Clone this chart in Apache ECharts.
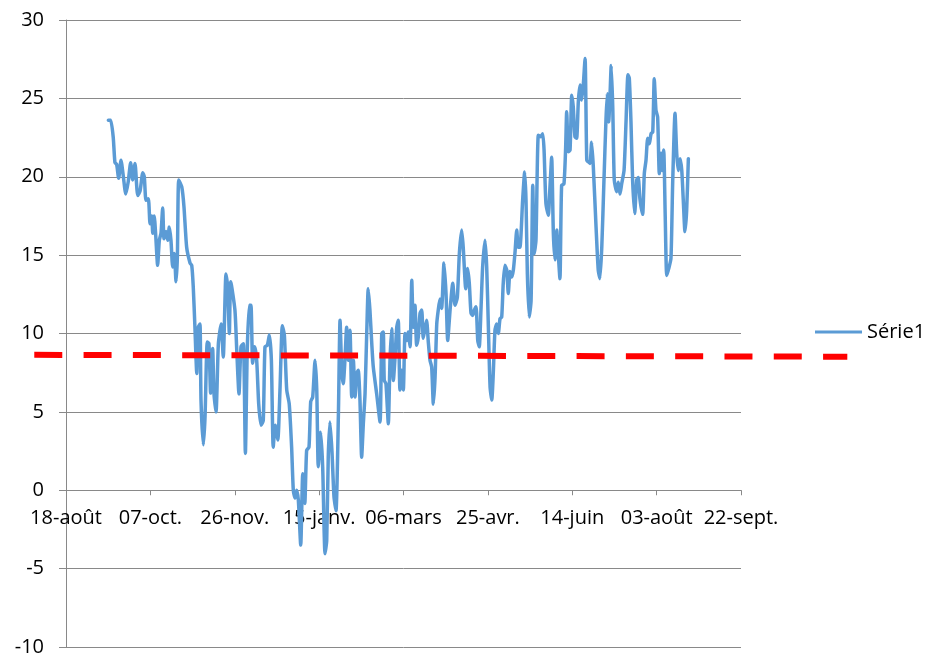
<!DOCTYPE html>
<html>
<head>
<meta charset="utf-8">
<script src="https://cdn.jsdelivr.net/npm/echarts@6/dist/echarts.min.js"></script>
<style>
  html, body { margin: 0; padding: 0; background: #fff; }
  #main { width: 926px; height: 655px; }
</style>
</head>
<body>
<div id="main"></div>
<script>
// Tick labels of the date axis (every 50 days from 18-août)
const tickLabels = ['18-août', '07-oct.', '26-nov.', '15-janv.', '06-mars', '25-avr.', '14-juin', '03-août', '22-sept.'];

// Days since 18-août for each reading
const obsDays = [
  25.1, 26.5, 28.0, 29.0, 30.0, 31.2, 32.6, 34.0, 35.4, 36.9,
  38.3, 39.5, 40.9, 42.5, 43.9, 45.5, 46.4, 47.4, 48.8, 49.8,
  50.8, 51.4, 52.3, 53.2, 54.3, 55.3, 56.3, 57.3, 58.1, 59.3,
  60.3, 61.2, 62.2, 63.2, 64.2, 65.2, 66.0, 66.8, 68.6, 69.9,
  71.5, 73.5, 74.5, 75.4, 76.4, 77.5, 78.4, 79.4, 80.0, 81.4,
  82.4, 83.7, 84.7, 85.7, 86.9, 87.7, 88.9, 90.3, 91.9, 93.2,
  94.8, 95.8, 96.8, 97.6, 100.1, 101.2, 102.5, 103.7, 105.1, 106.3,
  107.4, 108.6, 109.6, 110.6, 111.8, 113.0, 114.2, 115.6, 116.9, 117.9,
  119.3, 120.5, 121.7, 122.8, 124.0, 125.5, 126.8, 128.2, 129.4, 130.8,
  132.3, 133.7, 134.7, 135.7, 136.7, 137.7, 139.1, 140.3, 141.5, 142.6,
  144.0, 145.0, 146.2, 147.6, 148.6, 149.5, 150.9, 152.1, 153.5, 154.5,
  155.4, 156.4, 157.6, 158.8, 160.0, 161.4, 162.4, 163.4, 164.3, 165.3,
  166.3, 167.3, 168.3, 169.3, 170.3, 171.3, 172.3, 173.2, 174.2, 175.2,
  176.2, 177.2, 178.2, 179.1, 180.1, 181.2, 182.1, 184.1, 186.1, 187.1,
  188.0, 188.6, 189.6, 191.0, 192.0, 193.0, 194.0, 195.0, 196.0, 196.9,
  197.9, 198.9, 199.9, 200.9, 201.9, 202.8, 203.9, 204.9, 205.8, 206.8,
  207.8, 208.8, 209.8, 210.8, 211.7, 212.7, 213.7, 214.7, 215.7, 216.7,
  217.7, 218.7, 219.7, 220.6, 221.6, 222.6, 224.0, 225.2, 226.2, 227.6,
  229.2, 230.5, 231.9, 233.1, 234.5, 235.4, 236.9, 238.0, 239.0, 240.0,
  241.0, 242.0, 243.0, 244.0, 244.9, 245.9, 246.9, 248.3, 249.3, 250.3,
  251.3, 252.3, 253.2, 254.2, 255.2, 256.2, 257.2, 258.2, 259.1, 260.1,
  261.2, 262.1, 263.1, 264.1, 265.1, 266.1, 267.1, 268.0, 269.0, 270.6,
  271.8, 272.6, 273.4, 274.5, 275.6, 276.6, 277.5, 278.5, 279.9, 281.3,
  282.5, 283.3, 284.4, 285.8, 286.8, 287.8, 288.8, 289.8, 290.8, 291.7,
  292.7, 293.7, 295.1, 296.1, 296.7, 297.7, 298.7, 299.7, 300.6, 301.6,
  302.6, 303.6, 304.6, 305.6, 306.6, 307.6, 308.6, 309.5, 310.5, 311.5,
  312.5, 314.1, 315.4, 316.4, 317.5, 318.8, 320.0, 320.8, 321.6, 322.4,
  323.1, 324.0, 324.9, 326.3, 327.3, 328.3, 329.3, 330.7, 331.9, 333.0,
  333.8, 334.8, 335.8, 337.0, 338.2, 339.1, 340.1, 341.7, 342.7, 343.7,
  344.7, 345.7, 346.7, 347.7, 348.6, 349.6, 350.6, 351.6, 352.6, 353.4,
  354.2, 355.1, 356.0, 357.2, 358.5, 359.5, 360.9, 361.9, 362.8, 363.9,
  364.9, 365.8, 366.8, 367.8, 368.8
];

// Temperatures (Série1), same order as obsDays
const obsTemps = [
  23.6, 23.6, 22.5, 20.9, 20.8, 19.9, 21.05, 20.0, 18.9, 19.7,
  20.9, 19.8, 20.85, 18.8, 19.1, 20.25, 20.0, 18.5, 18.6, 17.0,
  17.5, 16.4, 17.5, 16.2, 14.35, 15.95, 16.4, 18.0, 16.05, 16.5,
  15.95, 16.8, 15.95, 14.25, 15.1, 13.3, 14.9, 19.8, 19.35, 18.1,
  15.5, 14.5, 14.35, 13.0, 10.4, 7.45, 10.4, 10.6, 5.75, 2.9,
  4.7, 9.45, 9.35, 6.2, 9.05, 6.15, 5.0, 9.35, 10.6, 8.5,
  13.8, 13.0, 10.0, 13.3, 11.5, 8.9, 6.15, 9.15, 9.35, 2.35,
  8.9, 11.8, 11.8, 8.1, 9.15, 8.3, 5.5, 4.15, 4.45, 9.15,
  9.25, 9.9, 8.3, 2.75, 4.15, 3.2, 6.4, 10.5, 9.9, 6.4,
  5.5, 2.75, 0.0, -0.5, 0.0, -0.65, -3.5, 1.05, -0.85, 2.55,
  2.75, 5.65, 5.95, 8.3, 6.4, 1.5, 3.7, 1.5, -4.05, -3.2,
  2.1, 4.35, 2.5, -0.4, -1.3, 4.7, 10.85, 7.65, 6.8, 8.3,
  10.4, 8.3, 10.2, 5.95, 8.3, 5.95, 7.45, 7.65, 5.75, 2.1,
  4.25, 6.15, 10.0, 12.85, 11.5, 9.35, 7.85, 6.15, 4.35, 10.0,
  10.1, 7.0, 6.8, 4.25, 8.3, 10.3, 7.0, 8.5, 10.4, 10.85,
  6.4, 7.65, 6.4, 10.0, 9.55, 10.1, 9.15, 13.4, 10.4, 11.8,
  9.25, 9.8, 11.3, 11.5, 9.7, 10.3, 10.85, 9.45, 8.3, 7.85,
  5.5, 7.2, 10.6, 11.5, 12.2, 11.6, 14.5, 12.55, 9.55, 11.5,
  13.2, 11.8, 12.3, 15.1, 16.6, 15.5, 12.85, 14.15, 13.2, 11.3,
  11.15, 11.5, 11.7, 9.55, 9.15, 11.5, 14.25, 15.95, 14.25, 10.4,
  6.6, 5.75, 7.45, 10.2, 10.6, 10.0, 10.95, 11.05, 13.2, 14.35,
  14.05, 12.55, 13.95, 13.6, 14.05, 15.2, 16.6, 15.5, 15.5, 18.5,
  20.3, 18.5, 13.8, 11.05, 12.1, 19.45, 15.1, 15.95, 22.65, 22.55,
  22.75, 21.7, 18.3, 17.55, 19.35, 21.25, 16.4, 14.7, 16.6, 15.1,
  13.5, 19.45, 19.55, 21.9, 24.15, 21.6, 21.7, 25.2, 24.45, 22.55,
  22.45, 24.8, 25.85, 24.9, 25.95, 27.55, 21.05, 20.95, 20.85, 22.2,
  20.6, 16.8, 14.05, 13.5, 15.5, 19.8, 23.7, 25.3, 23.5, 25.3,
  27.1, 24.45, 19.8, 19.05, 19.65, 18.9, 19.55, 20.4, 23.6, 26.5,
  26.3, 23.5, 19.7, 17.65, 19.8, 19.95, 18.6, 17.6, 20.2, 21.05,
  22.45, 22.1, 22.75, 22.85, 26.25, 24.25, 23.8, 20.2, 21.5, 20.4,
  21.7, 17.45, 13.7, 14.15, 14.8, 19.55, 24.05, 21.5, 20.4, 21.15,
  20.4, 18.5, 16.5, 17.85, 21.15
];

// Red dashed threshold line (a drawn shape that extends beyond the plot)
const refLineDays = [-18.8, 463.0];
const refLineTemps = [8.64, 8.52];

const serieData = obsDays.map((d, i) => [d, obsTemps[i]]);
const refData = refLineDays.map((d, i) => [d, refLineTemps[i]]);

const FONT = 'Open Sans';
const AXIS_COLOR = '#898989';

// Main plot geometry
const W = 926, H = 655;
const GRID_LEFT = 66, GRID_RIGHT = 185, GRID_TOP = 20, GRID_BOTTOM = 8;
const X_MIN = 0, X_MAX = 400;
const Y_MIN = -10, Y_MAX = 30;
const plotWidth = W - GRID_LEFT - GRID_RIGHT;
const plotHeight = H - GRID_TOP - GRID_BOTTOM;
const pxPerDay = plotWidth / (X_MAX - X_MIN);
// Overlay grid sharing the same day scale, wide enough for the threshold line
const ovLeft = GRID_LEFT + (refLineDays[0] - X_MIN) * pxPerDay;
const ovRight = W - (GRID_LEFT + (refLineDays[1] - X_MIN) * pxPerDay);
// Label grid whose bottom edge is the zero line, so date labels sit under y = 0
const zeroFromBottom = GRID_BOTTOM + (0 - Y_MIN) / (Y_MAX - Y_MIN) * plotHeight;

const chart = echarts.init(document.getElementById('main'), null, { renderer: 'canvas' });
chart.setOption({
  animation: false,
  backgroundColor: '#ffffff',
  textStyle: { fontFamily: FONT },
  grid: [
    { left: GRID_LEFT, right: GRID_RIGHT, top: GRID_TOP, bottom: GRID_BOTTOM, containLabel: false, outerBoundsMode: 'none' },
    { left: ovLeft, right: ovRight, top: GRID_TOP, bottom: GRID_BOTTOM, containLabel: false, outerBoundsMode: 'none' },
    { left: GRID_LEFT, right: GRID_RIGHT, top: GRID_TOP, bottom: zeroFromBottom, containLabel: false, outerBoundsMode: 'none' }
  ],
  legend: {
    data: ['Série1'],
    left: 815,
    top: 322,
    padding: 0,
    icon: 'rect',
    itemWidth: 47,
    itemHeight: 3,
    itemStyle: { color: '#5B9BD5' },
    textStyle: { fontSize: 20, color: '#000', fontFamily: FONT }
  },
  xAxis: [
    {
      gridIndex: 0,
      type: 'value',
      min: X_MIN,
      max: X_MAX,
      interval: 50,
      axisLine: { show: true, onZero: true, lineStyle: { color: AXIS_COLOR, width: 1 } },
      axisTick: { show: true, length: 5, lineStyle: { color: AXIS_COLOR } },
      axisLabel: { show: false },
      splitLine: { show: false }
    },
    {
      gridIndex: 1,
      type: 'value',
      min: refLineDays[0],
      max: refLineDays[1],
      show: false
    },
    {
      gridIndex: 2,
      type: 'value',
      min: X_MIN,
      max: X_MAX,
      interval: 50,
      axisLine: { show: false },
      axisTick: { show: false },
      splitLine: { show: false },
      axisLabel: {
        margin: 18,
        fontSize: 20,
        color: '#000',
        fontFamily: FONT,
        showMinLabel: true,
        showMaxLabel: true,
        formatter: v => tickLabels[Math.round(v / 50)]
      }
    }
  ],
  yAxis: [
    {
      gridIndex: 0,
      type: 'value',
      min: Y_MIN,
      max: Y_MAX,
      interval: 5,
      axisLine: { show: true, onZero: false, lineStyle: { color: AXIS_COLOR, width: 1 } },
      axisTick: { show: true, length: 7, lineStyle: { color: AXIS_COLOR } },
      axisLabel: { margin: 22, fontSize: 20, color: '#000', fontFamily: FONT },
      splitLine: { show: true, lineStyle: { color: AXIS_COLOR, width: 1 } }
    },
    {
      gridIndex: 1,
      type: 'value',
      min: Y_MIN,
      max: Y_MAX,
      show: false
    },
    {
      gridIndex: 2,
      type: 'value',
      min: 0,
      max: Y_MAX,
      show: false
    }
  ],
  series: [
    {
      name: 'Série1',
      type: 'line',
      xAxisIndex: 0,
      yAxisIndex: 0,
      data: serieData,
      symbol: 'none',
      smooth: 0.2,
      lineStyle: { color: '#5B9BD5', width: 3.5, join: 'round', cap: 'round' },
      itemStyle: { color: '#5B9BD5' },
      z: 2
    },
    {
      name: 'seuil',
      type: 'line',
      xAxisIndex: 1,
      yAxisIndex: 1,
      data: refData,
      symbol: 'none',
      silent: true,
      lineStyle: { color: '#FF0000', width: 6, type: [28, 21.3], cap: 'butt' },
      z: 3
    }
  ]
});
</script>
</body>
</html>
